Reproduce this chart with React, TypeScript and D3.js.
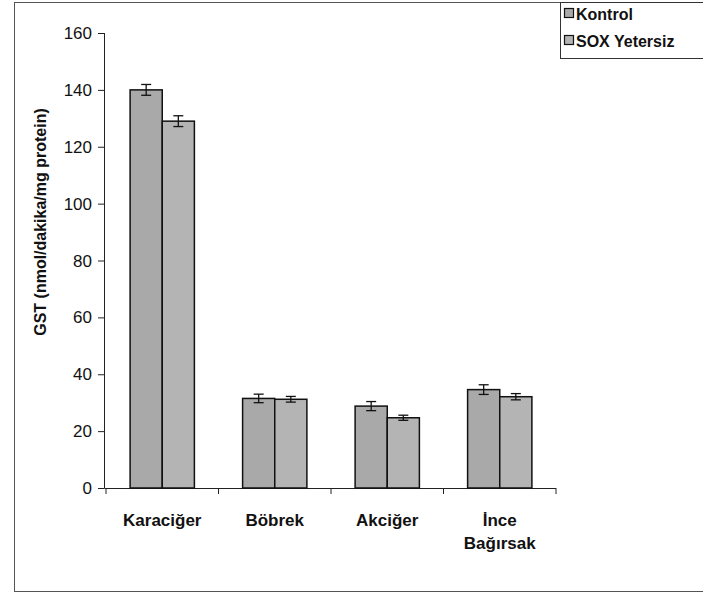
import React, { useEffect, useRef } from "react";
import * as d3 from "d3";

const categories = ["Karaciğer", "Böbrek", "Akciğer", "İnce Bağırsak"];
const seriesNames = ["Kontrol", "SOX Yetersiz"];
const kontrol = [140, 31.5, 28.8, 34.6];
const soxYetersiz = [129, 31.2, 24.7, 32.1];
const kontrolErr = [1.9, 1.5, 1.6, 1.7];
const soxErr = [1.9, 1.0, 0.9, 1.1];
const yTicks = [0, 20, 40, 60, 80, 100, 120, 140, 160];
const seriesColors = ["#a9a9a9", "#b4b4b4"];

export default function App() {
  const ref = useRef<SVGSVGElement | null>(null);
  useEffect(() => {
    const svg = d3.select(ref.current);
    svg.selectAll("*").remove();
    const W = 703, H = 600;
    const x0 = 106, x1 = 556, yTop = 33, yBot = 488;
    const font = "Arial, 'Liberation Sans', sans-serif";

    svg.append("rect").attr("x", 0).attr("y", 0).attr("width", W).attr("height", H).attr("fill", "#fff");
    // outer border
    svg.append("rect").attr("x", 14.5).attr("y", 2.5).attr("width", 700).attr("height", 589)
      .attr("fill", "none").attr("stroke", "#555").attr("stroke-width", 1);

    const y = d3.scaleLinear().domain([0, 160]).range([yBot, yTop]);
    const x = d3.scaleBand().domain(categories).range([x0, x1]).paddingInner(0).paddingOuter(0);
    const band = x.bandwidth();
    const bw = band / 3.5;
    const data = [kontrol, soxYetersiz];
    const errs = [kontrolErr, soxErr];

    // y axis
    svg.append("line").attr("x1", x0 - 1.5).attr("x2", x0 - 1.5).attr("y1", yTop).attr("y2", yBot)
      .attr("stroke", "#222").attr("stroke-width", 1);
    yTicks.forEach((t) => {
      svg.append("line").attr("x1", x0 - 8).attr("x2", x0 - 1.5).attr("y1", y(t) + 0.5).attr("y2", y(t) + 0.5)
        .attr("stroke", "#222");
      svg.append("text").attr("x", x0 - 14).attr("y", y(t) + 6).attr("text-anchor", "end")
        .attr("font-family", font).attr("font-size", 17).attr("fill", "#111").text(String(t));
    });
    // x axis
    svg.append("line").attr("x1", x0 - 1.5).attr("x2", x1).attr("y1", yBot + 0.5).attr("y2", yBot + 0.5)
      .attr("stroke", "#222");
    [0, 1, 2, 3, 4].forEach((i) => {
      const xx = x0 + i * band;
      svg.append("line").attr("x1", xx).attr("x2", xx).attr("y1", yBot).attr("y2", yBot + 6).attr("stroke", "#222");
    });

    // bars
    categories.forEach((c, ci) => {
      data.forEach((series, si) => {
        const bx = (x(c) as number) + 0.75 * bw + si * bw;
        svg.append("rect").attr("x", bx).attr("y", y(series[ci])).attr("width", bw)
          .attr("height", yBot - y(series[ci])).attr("fill", seriesColors[si])
          .attr("stroke", "#111").attr("stroke-width", 1.5);
      });
    });
    // error bars
    categories.forEach((c, ci) => {
      data.forEach((series, si) => {
        const cx = (x(c) as number) + 0.75 * bw + si * bw + bw / 2;
        const hi = y(series[ci] + errs[si][ci]);
        const lo = y(series[ci] - errs[si][ci]);
        const g = svg.append("g").attr("stroke", "#111").attr("stroke-width", 1.3);
        g.append("line").attr("x1", cx).attr("x2", cx).attr("y1", hi).attr("y2", lo);
        g.append("line").attr("x1", cx - 5).attr("x2", cx + 5).attr("y1", hi).attr("y2", hi);
        g.append("line").attr("x1", cx - 5).attr("x2", cx + 5).attr("y1", lo).attr("y2", lo);
      });
    });

    // category labels
    categories.forEach((c) => {
      const cx = (x(c) as number) + band / 2;
      const parts = c === "İnce Bağırsak" ? ["İnce", "Bağırsak"] : [c];
      parts.forEach((p, pi) => {
        svg.append("text").attr("x", cx).attr("y", 526 + pi * 23).attr("text-anchor", "middle")
          .attr("font-family", font).attr("font-size", 17).attr("font-weight", "bold").attr("fill", "#111").text(p);
      });
    });

    // y title
    svg.append("text").attr("transform", "translate(46,222) rotate(-90)").attr("text-anchor", "middle")
      .attr("font-family", font).attr("font-size", 16).attr("font-weight", "bold").attr("fill", "#111")
      .text("GST (nmol/dakika/mg protein)");

    // legend
    svg.append("rect").attr("x", 560.5).attr("y", 2.5).attr("width", 160).attr("height", 56)
      .attr("fill", "#fff").attr("stroke", "#333");
    seriesNames.forEach((n, i) => {
      const ly = 20 + i * 27;
      svg.append("rect").attr("x", 564.5).attr("y", ly - 11.5).attr("width", 9).attr("height", 9)
        .attr("fill", seriesColors[i]).attr("stroke", "#111").attr("stroke-width", 1.2);
      svg.append("text").attr("x", 576).attr("y", ly).attr("font-family", font).attr("font-size", 16)
        .attr("font-weight", "bold").attr("fill", "#111").text(n);
    });
  }, []);
  return (
    <svg ref={ref} width={703} height={600} style={{ position: "absolute", left: 0, top: 0 }} />
  );
}
